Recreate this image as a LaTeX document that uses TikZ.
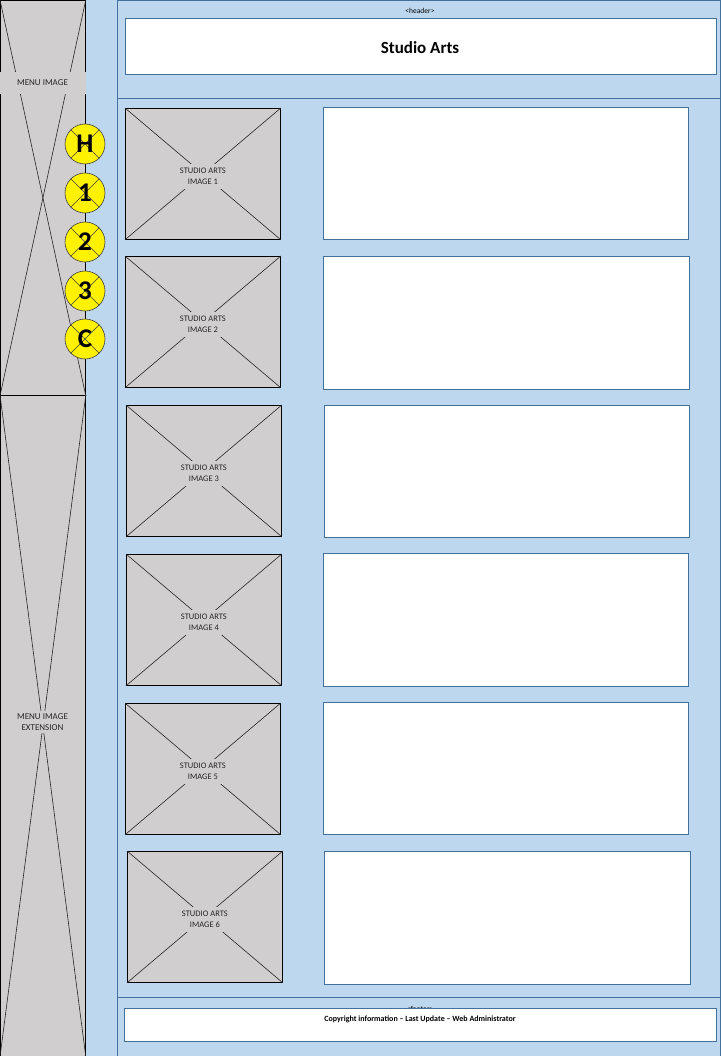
\documentclass[tikz,border=0pt]{standalone}
\usepackage{fontspec}
\setmainfont{Carlito}
\definecolor{pageblue}{HTML}{BDD7EE}
\definecolor{frameblue}{HTML}{41719C}
\definecolor{imggray}{HTML}{D0CECE}
\tikzset{
  region/.style={draw=frameblue, line width=1pt, fill=pageblue, anchor=north west, inner sep=0pt},
  whitebox/.style={draw=frameblue, line width=0.8pt, fill=white, anchor=north west, inner sep=0pt},
  imgbox/.style={draw=black, line width=0.8pt, fill=imggray, anchor=north west, inner sep=0pt,
    minimum width=155pt, minimum height=131pt},
  imglabel/.style={fill=imggray, inner sep=2pt, align=center, text=black!85,
    font=\fontsize{8.5}{11}\selectfont},
  xline/.style={draw=black!85, line width=0.6pt},
  navdot/.style={circle, draw=black!75, line width=0.6pt, fill=yellow, minimum size=40pt, inner sep=0pt},
  navletter/.style={font=\bfseries\fontsize{27}{27}\selectfont}
}
\begin{document}
\begin{tikzpicture}[x=1pt,y=-1pt]
\useasboundingbox (0,0) rectangle (720,1056);
\fill[pageblue] (0,0) rectangle (720,1056);

% menu column
\node[imgbox, minimum width=85pt, minimum height=395pt] (menu) at (0,0) {};
\draw[xline] (menu.north west) -- (menu.south east);
\draw[xline] (menu.north east) -- (menu.south west);
\node[imglabel, font=\fontsize{9}{11}\selectfont, minimum width=86pt, minimum height=22pt] (menutext) at (42.5,83) {MENU IMAGE};

\node[imgbox, minimum width=85pt, minimum height=661pt] (menuext) at (0,395) {};
\draw[xline] (menuext.north west) -- (menuext.south east);
\draw[xline] (menuext.north east) -- (menuext.south west);
\node[imglabel, font=\fontsize{9}{11}\selectfont, inner sep=3pt] (menuexttext) at (42.5,722) {MENU IMAGE\\EXTENSION};

% page regions
\node[region, minimum width=602.5pt, minimum height=98pt] (header) at (117,0) {};
\node[region, minimum width=602.5pt, minimum height=899pt] (main) at (117,98) {};
\node[region, minimum width=602.5pt, minimum height=60pt] (footer) at (117,997) {};

\node[font=\fontsize{7.5}{8}\selectfont] (headertag) at (420,11) {<header>};
\node[whitebox, minimum width=591pt, minimum height=56pt] (titlebox) at (125,18) {};
\node[font=\bfseries\fontsize{17}{20}\selectfont] (title) at (420,48) {Studio Arts};

\node[font=\fontsize{7.5}{8}\selectfont] (footertag) at (420,1009) {<footer>};
\node[whitebox, minimum width=592pt, minimum height=33pt] (footbox) at (124,1008) {};
\node[font=\bfseries\fontsize{8}{10}\selectfont] (copyright) at (420,1019)
  {Copyright information – Last Update – Web Administrator};

% image placeholders and text boxes
\foreach \i/\ix/\iy/\tx/\ty/\tw/\th in {1/125/108/323/107/365/132, 2/125/256/323/256/366/133,
  3/126/405/324/405/365/132, 4/126/554/323/553/365/133, 5/125/703/323/702/365/132,
  6/127/851/324/851/366/133}{
  \node[imgbox] (img\i) at (\ix,\iy) {};
  \draw[xline] (img\i.north west) -- (img\i.south east);
  \draw[xline] (img\i.north east) -- (img\i.south west);
  \node[imglabel, inner sep=4pt] (imgtext\i) at ([yshift=-2.5pt]img\i.center) {STUDIO ARTS\\IMAGE \i};
  \node[whitebox, minimum width=\tw pt, minimum height=\th pt] (txt\i) at (\tx,\ty) {};
}

% navigation dots
\foreach \n/\lbl/\cy in {h/H/144, one/1/193, two/2/242, three/3/291, c/C/339}{
  \node[navdot] (\n) at (85,\cy) {};
  \draw[line width=0.5pt, black!75] (\n.north west) -- (\n.south east);
  \draw[line width=0.5pt, black!75] (\n.north east) -- (\n.south west);
  \node[navletter] (\n text) at (\n.center) {\lbl};
}
\end{tikzpicture}
\end{document}
